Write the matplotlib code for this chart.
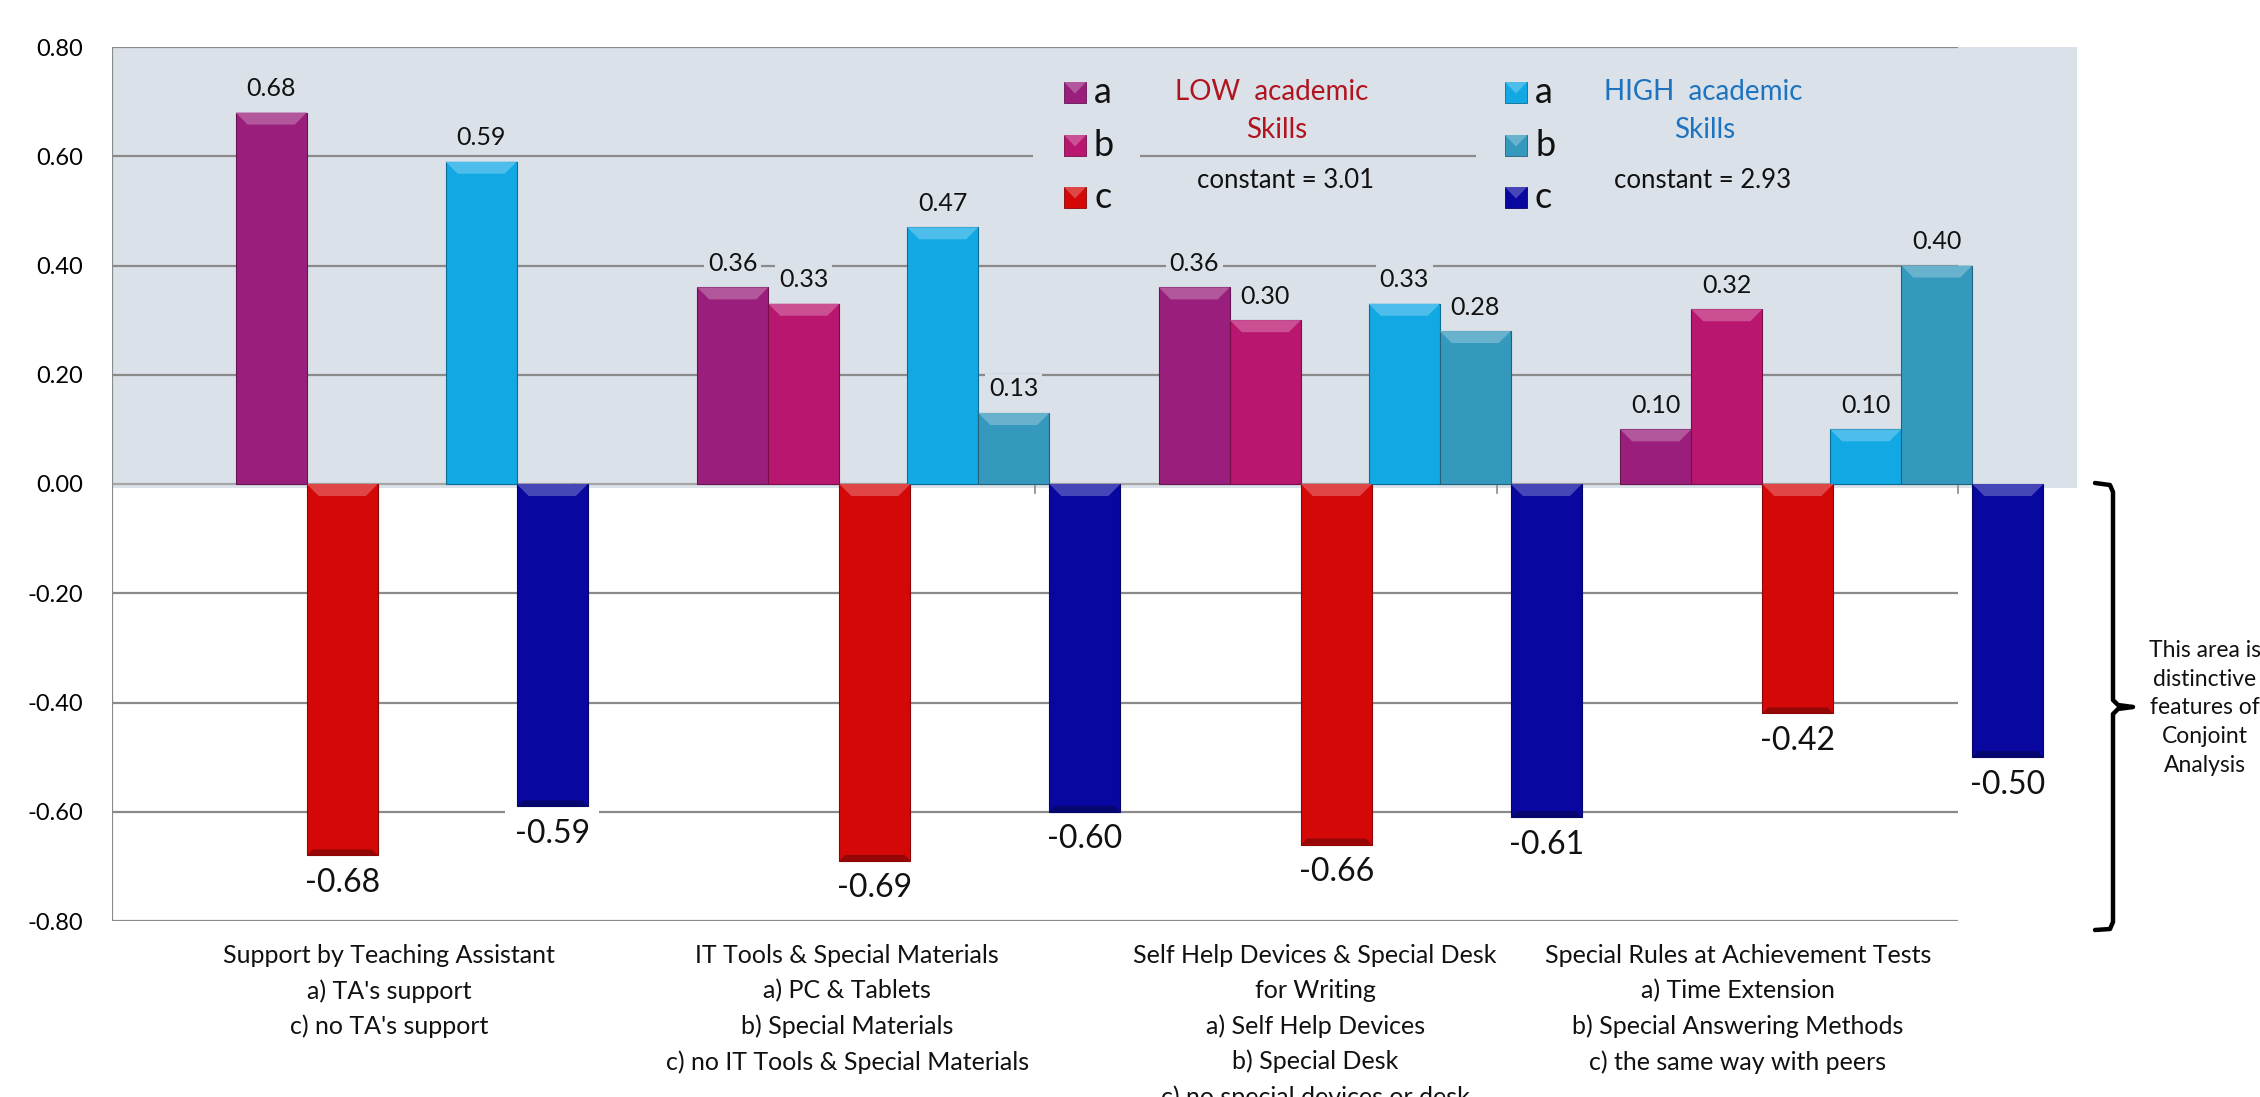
import matplotlib
matplotlib.use("Agg")
import matplotlib.pyplot as plt
from matplotlib.patches import Rectangle, Polygon
from matplotlib.lines import Line2D
import matplotlib.colors as mcolors
import numpy as np

plt.rcParams['font.family'] = ['Lato', 'DejaVu Sans']

# ---------------- data ----------------
categories = [
    "Support by Teaching Assistant\na) TA's support\nc) no TA's support",
    "IT Tools & Special Materials\na) PC & Tablets\nb) Special Materials\nc) no IT Tools & Special Materials",
    "Self Help Devices & Special Desk\nfor Writing\na) Self Help Devices\nb) Special Desk\nc) no special devices or desk",
    "Special Rules at Achievement Tests\na) Time Extension\nb) Special Answering Methods\nc) the same way with peers",
]
low_a = [0.68, 0.36, 0.36, 0.10]
low_b = [None, 0.33, 0.30, 0.32]
low_c = [-0.68, -0.69, -0.66, -0.42]
high_a = [0.59, 0.47, 0.33, 0.10]
high_b = [None, 0.13, 0.28, 0.40]
high_c = [-0.59, -0.60, -0.61, -0.50]
yticks = [-0.80, -0.60, -0.40, -0.20, 0.00, 0.20, 0.40, 0.60, 0.80]
low_constant = "constant = 3.01"
high_constant = "constant = 2.93"

# ---------------- styles / layout ----------------
C_LA, C_LB, C_LC = "#9A1F7C", "#B9166F", "#D50808"
C_HA, C_HB, C_HC = "#12A8E4", "#3598BD", "#0808A0"
BG = "#DBE1E9"
GRID = "#8A8A8A"
LOW_TXT = "#B0141F"
HIGH_TXT = "#1E73BE"
BAR_W = 0.154
LOW_START = 0.345
HIGH_START = 0.80
LABEL_X = [0.60, 1.593, 2.607, 3.523]

W, H = 2260, 1097
fig = plt.figure(figsize=(W / 100, H / 100), dpi=100)
ax = fig.add_axes([112 / W, 1 - 921 / H, (2078 - 112) / W, (921 - 47) / H])
ax.set_xlim(0, 4.26)
ax.set_ylim(-0.8, 0.8)
for s in ax.spines.values():
    s.set_visible(False)
ax.set_xticks([])
ax.set_yticks(yticks)
ax.set_yticklabels([f"{v:.2f}" for v in yticks], fontsize=17)
ax.tick_params(axis='y', length=0, pad=21)


def P(px, py):
    return (px / W, 1 - py / H)


# background of positive area
ax.add_patch(Rectangle((0, -0.008), 4.258, 0.808, facecolor=BG, edgecolor='none',
                       zorder=0, clip_on=False))
# gridlines
for v in yticks:
    col = "#A5A5A5" if v == 0 else GRID
    ax.plot([0, 4], [v, v], color=col, lw=1.6, zorder=1, solid_capstyle='butt')
ax.plot([0, 0], [-0.8, 0.8], color=GRID, lw=1.6, zorder=1)
for k in range(1, 5):
    ax.plot([k, k], [0, -0.016], color=GRID, lw=1.2, zorder=1)

# covers behind legend blocks (gridline gaps)
ax.add_patch(Rectangle(((1033 - 112) / 461.5, 0.48), (1140 - 1033) / 461.5, 0.29,
                       facecolor=BG, edgecolor='none', zorder=1.5))
ax.add_patch(Rectangle(((1476 - 112) / 461.5, 0.48), 4 - (1476 - 112) / 461.5 + 0.003, 0.29,
                       facecolor=BG, edgecolor='none', zorder=1.5))


def shade(c, f):
    r, g, b = mcolors.to_rgb(c)
    if f > 0:
        return (r + (1 - r) * f, g + (1 - g) * f, b + (1 - b) * f)
    return (r * (1 + f), g * (1 + f), b * (1 + f))


def bevel_bar(xc, v, color):
    ax.bar(xc, v, BAR_W, color=color, edgecolor=shade(color, -0.35), linewidth=0.8, zorder=2)
    top, bot = max(v, 0), min(v, 0)
    dx, dy = 0.026, 0.022
    l, r = xc - BAR_W / 2, xc + BAR_W / 2
    ax.add_patch(Polygon([(l, top), (r, top), (r - dx, top - dy), (l + dx, top - dy)],
                         closed=True, facecolor=shade(color, 0.25), edgecolor='none', zorder=2.1))
    if v < 0:
        ax.add_patch(Polygon([(l, bot), (r, bot), (r - dx * 0.5, bot + dy * 0.5), (l + dx * 0.5, bot + dy * 0.5)],
                             closed=True, facecolor=shade(color, -0.3), edgecolor='none', zorder=2.1))
        ax.annotate(f"{v:.2f}", (xc, v), xytext=(0, -9), textcoords='offset points',
                    ha='center', va='top', fontsize=23, color='#111111', zorder=3,
                    bbox=dict(boxstyle='square,pad=0.3', fc='white', ec='none'))
    else:
        ax.annotate(f"{v:.2f}", (xc, v), xytext=(0, 9), textcoords='offset points',
                    ha='center', va='bottom', fontsize=18, color='#111111', zorder=3,
                    bbox=dict(boxstyle='square,pad=0.15', fc=BG, ec='none'))


for k in range(len(categories)):
    for start, series in ((LOW_START, [(low_a, C_LA), (low_b, C_LB), (low_c, C_LC)]),
                          (HIGH_START, [(high_a, C_HA), (high_b, C_HB), (high_c, C_HC)])):
        slot = 0
        for vals, col in series:
            v = vals[k]
            if v is None:
                continue
            bevel_bar(k + start + slot * BAR_W, v, col)
            slot += 1

# category labels
for k, lab in enumerate(categories):
    x_fig = (112 + LABEL_X[k] * 461.5) / W
    fig.text(x_fig, 1 - 944 / H, lab, ha='center', va='top', fontsize=18,
             linespacing=1.62, color='#111111')


# legends
def legend_marker(px, py_bottom, color):
    x0, y0 = P(px, py_bottom)
    w, h = 22 / W, 21 / H
    fig.patches.append(Rectangle((x0, y0), w, h, transform=fig.transFigure,
                                 facecolor=color, edgecolor=shade(color, -0.35), lw=0.6, zorder=5))
    fig.patches.append(Polygon([(x0, y0 + h), (x0 + w, y0 + h), (x0 + w * 0.5, y0 + h * 0.45)],
                               closed=True, transform=fig.transFigure,
                               facecolor=shade(color, 0.25), edgecolor='none', zorder=5))


rows = [("a", 103), ("b", 156), ("c", 208)]
for (lab, yb), col in zip(rows, [C_LA, C_LB, C_LC]):
    legend_marker(1064, yb, col)
    fig.text(*P(1094, yb), lab, fontsize=26, va='baseline', ha='left', color='#111111')
for (lab, yb), col in zip(rows, [C_HA, C_HB, C_HC]):
    legend_marker(1505, yb, col)
    fig.text(*P(1535, yb), lab, fontsize=26, va='baseline', ha='left', color='#111111')

fig.text(*P(1272, 100), "LOW  academic", fontsize=20, color=LOW_TXT, ha='center', va='baseline')
fig.text(*P(1277, 138), "Skills", fontsize=20, color=LOW_TXT, ha='center', va='baseline')
fig.text(*P(1286, 188), low_constant, fontsize=18.5, color='#111111', ha='center', va='baseline')
fig.text(*P(1703, 100), "HIGH  academic", fontsize=20, color=HIGH_TXT, ha='center', va='baseline')
fig.text(*P(1705, 138), "Skills", fontsize=20, color=HIGH_TXT, ha='center', va='baseline')
fig.text(*P(1703, 188), high_constant, fontsize=18.5, color='#111111', ha='center', va='baseline')

# bracket on the right
bx = [2095, 2110, 2113, 2113, 2118, 2133, 2118, 2113, 2113, 2110, 2095]
by = [483, 485, 492, 700, 705, 707, 709, 714, 922, 929, 930]
fig.add_artist(Line2D([x / W for x in bx], [1 - y / H for y in by], color='black', lw=3.2,
                      solid_joinstyle='round', solid_capstyle='round'))
fig.text(*P(2205, 708), "This area is\ndistinctive\nfeatures of\nConjoint\nAnalysis",
         fontsize=16.5, ha='center', va='center', linespacing=1.45, color='#111111')

fig.savefig("out.png", dpi=100, facecolor='white')
